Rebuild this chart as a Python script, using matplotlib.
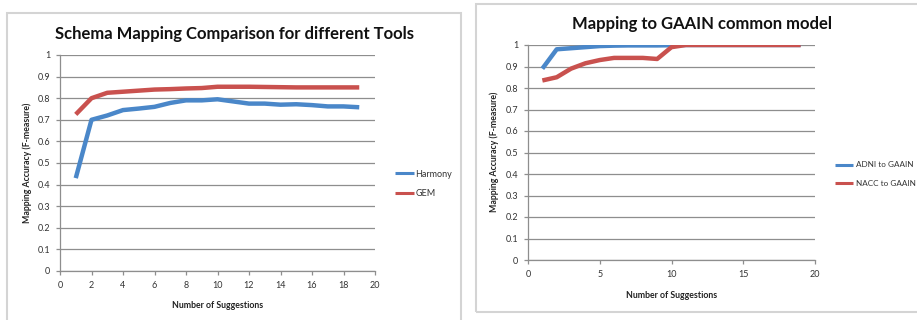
import matplotlib
matplotlib.use("Agg")
import matplotlib.pyplot as plt
from matplotlib.patches import Rectangle

plt.rcParams['font.family'] = ['Lato', 'DejaVu Sans']

# ---- data ----
suggestions = list(range(1, 20))
harmony = [0.43, 0.70, 0.72, 0.745, 0.752, 0.76, 0.778, 0.79, 0.79, 0.795,
           0.785, 0.775, 0.775, 0.77, 0.772, 0.768, 0.762, 0.762, 0.758]
gem = [0.725, 0.80, 0.825, 0.83, 0.835, 0.84, 0.842, 0.845, 0.847, 0.853,
       0.853, 0.853, 0.852, 0.851, 0.85, 0.85, 0.85, 0.85, 0.85]
adni = [0.89, 0.98, 0.985, 0.99, 0.995, 0.997, 0.998, 0.998, 0.998, 0.999,
        1.0, 1.0, 1.0, 1.0, 1.0, 1.0, 1.0, 1.0, 1.0]
nacc = [0.835, 0.85, 0.89, 0.915, 0.93, 0.94, 0.94, 0.94, 0.935, 0.99,
        1.0, 1.0, 1.0, 1.0, 1.0, 1.0, 1.0, 1.0, 1.0]

left_title = "Schema Mapping Comparison for different Tools"
right_title = "Mapping to GAAIN common model"
ylabel = "Mapping Accuracy (F-measure)"
xlabel = "Number of Suggestions"
left_names = ["Harmony", "GEM"]
right_names = ["ADNI to GAAIN", "NACC to GAAIN"]
left_xticks = list(range(0, 21, 2))
right_xticks = list(range(0, 21, 5))
yticks = [0, 0.1, 0.2, 0.3, 0.4, 0.5, 0.6, 0.7, 0.8, 0.9, 1]
ytick_labels = ["0", "0.1", "0.2", "0.3", "0.4", "0.5", "0.6", "0.7", "0.8", "0.9", "1"]

BLUE = "#4a87c9"
RED = "#c9514e"
GRID = "#8e8e8e"

W, H = 917, 320
fig = plt.figure(figsize=(W / 100, H / 100), dpi=100)
fig.patch.set_facecolor("white")

def fx(px):
    return px / W

def fy(py):
    return 1 - py / H

# panel frames
fig.patches.append(Rectangle((fx(7), fy(330)), fx(461 - 7), (330 - 13) / H,
                             transform=fig.transFigure, fill=False,
                             edgecolor="#d4d4d4", lw=1.5))
fig.patches.append(Rectangle((fx(476), fy(312)), fx(930 - 476), (312 - 4) / H,
                             transform=fig.transFigure, fill=False,
                             edgecolor="#d4d4d4", lw=1.5))

def style_axes(ax, xticks):
    ax.set_xlim(0, 20)
    ax.set_ylim(0, 1)
    ax.set_yticks(yticks)
    ax.set_yticklabels(ytick_labels)
    ax.set_xticks(xticks)
    ax.grid(axis="y", color=GRID, lw=0.9)
    ax.set_axisbelow(True)
    for s in ("top", "right"):
        ax.spines[s].set_visible(False)
    for s in ("left", "bottom"):
        ax.spines[s].set_color(GRID)
        ax.spines[s].set_linewidth(0.9)
    ax.tick_params(axis="both", colors=GRID, labelcolor="#333333",
                   labelsize=6.5, length=3, width=0.9, pad=4)

# left chart
ax1 = fig.add_axes([fx(60), fy(271), fx(375 - 60), (271 - 55) / H])
style_axes(ax1, left_xticks)
l1, = ax1.plot(suggestions, harmony, color=BLUE, lw=3.2, solid_capstyle="butt",
               solid_joinstyle="round", label=left_names[0])
l2, = ax1.plot(suggestions, gem, color=RED, lw=3.2, solid_capstyle="butt",
               solid_joinstyle="round", label=left_names[1])
fig.text(fx(235), fy(34), left_title, ha="center", va="center",
         fontsize=12, fontweight="bold", color="#111111")
fig.text(fx(27), fy(163), ylabel, ha="center", va="center", rotation=90,
         fontsize=6.3, fontweight="bold", color="#222222")
fig.text(fx(218), fy(305), xlabel, ha="center", va="center",
         fontsize=6.3, fontweight="bold", color="#222222")
fig.legend([l1, l2], left_names, loc="center left",
           bbox_to_anchor=(fx(391), fy(184)), frameon=False, fontsize=6.5,
           handlelength=2.2, handletextpad=0.1, labelspacing=1.2,
           borderaxespad=0, labelcolor="#333333")
for h in fig.legends[-1].get_lines():
    h.set_linewidth(2.2)

# right chart
ax2 = fig.add_axes([fx(528), fy(260), fx(815 - 528), (260 - 45) / H])
style_axes(ax2, right_xticks)
r1, = ax2.plot(suggestions, adni, color=BLUE, lw=3.2, solid_capstyle="butt",
               solid_joinstyle="round", label=right_names[0])
r2, = ax2.plot(suggestions, nacc, color=RED, lw=3.2, solid_capstyle="butt",
               solid_joinstyle="round", label=right_names[1])
fig.text(fx(702), fy(24), right_title, ha="center", va="center",
         fontsize=12, fontweight="bold", color="#111111")
fig.text(fx(494), fy(152), ylabel, ha="center", va="center", rotation=90,
         fontsize=6.3, fontweight="bold", color="#222222")
fig.text(fx(672), fy(295), xlabel, ha="center", va="center",
         fontsize=6.3, fontweight="bold", color="#222222")
fig.legend([r1, r2], right_names, loc="center left",
           bbox_to_anchor=(fx(832), fy(174)), frameon=False, fontsize=5.9,
           handlelength=2.2, handletextpad=0.3, labelspacing=1.35,
           borderaxespad=0, labelcolor="#333333")
for h in fig.legends[-1].get_lines():
    h.set_linewidth(2.2)

fig.savefig("out.png", dpi=100, facecolor="white")
